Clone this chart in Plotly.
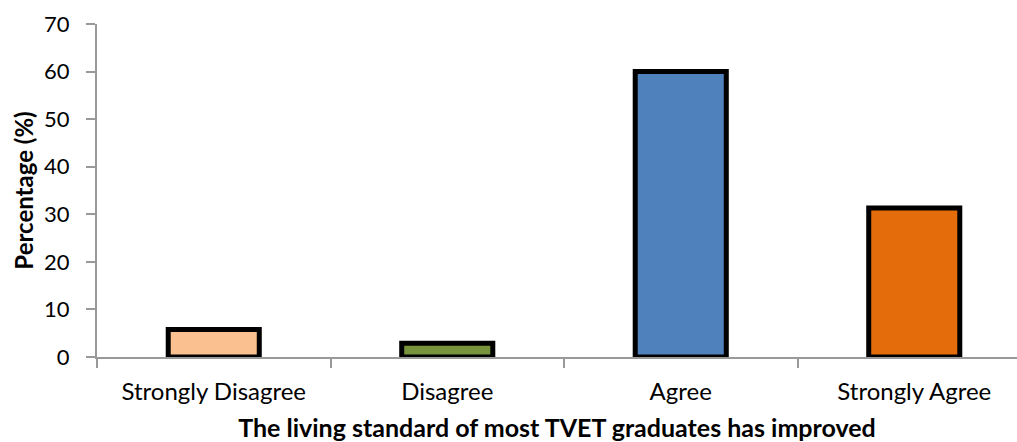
import plotly.graph_objects as go

categories = ["Strongly Disagree", "Disagree", "Agree", "Strongly Agree"]
percentages = [5.8, 2.9, 60.0, 31.3]
bar_colors = ["#FAC090", "#77933C", "#4F81BD", "#E46C0A"]
y_ticks = [0, 10, 20, 30, 40, 50, 60, 70]

font_family = "Lato, 'Open Sans', sans-serif"

fig = go.Figure(
    go.Bar(
        x=categories,
        y=percentages,
        width=0.39,
        marker=dict(color=bar_colors, line=dict(color="black", width=5)),
    )
)

fig.update_layout(
    width=1017,
    height=442,
    margin=dict(l=97, r=0, t=24, b=85),
    paper_bgcolor="white",
    plot_bgcolor="white",
    showlegend=False,
    font=dict(family=font_family, color="black"),
)

fig.update_xaxes(
    range=[-0.5, 3.44],
    showline=True,
    linecolor="#999999",
    linewidth=2,
    ticks="outside",
    tickson="boundaries",
    ticklen=9,
    tickcolor="#999999",
    tickwidth=2,
    tickfont=dict(size=24),
    ticklabelstandoff=12,
    title=dict(
        text="<b>The living standard of most TVET graduates has improved</b>",
        font=dict(size=25),
        standoff=17,
    ),
    automargin=False,
    showgrid=False,
)

fig.update_yaxes(
    range=[0, 70],
    tickvals=y_ticks,
    showline=True,
    linecolor="#999999",
    linewidth=2,
    ticks="outside",
    ticklen=9,
    tickcolor="#999999",
    tickwidth=2,
    tickfont=dict(size=22),
    ticklabelstandoff=12,
    showgrid=False,
    zeroline=False,
    automargin=False,
    title=dict(text="<b>Percentage (%)</b>", font=dict(size=24), standoff=4),
)

fig.write_html("out.html")
